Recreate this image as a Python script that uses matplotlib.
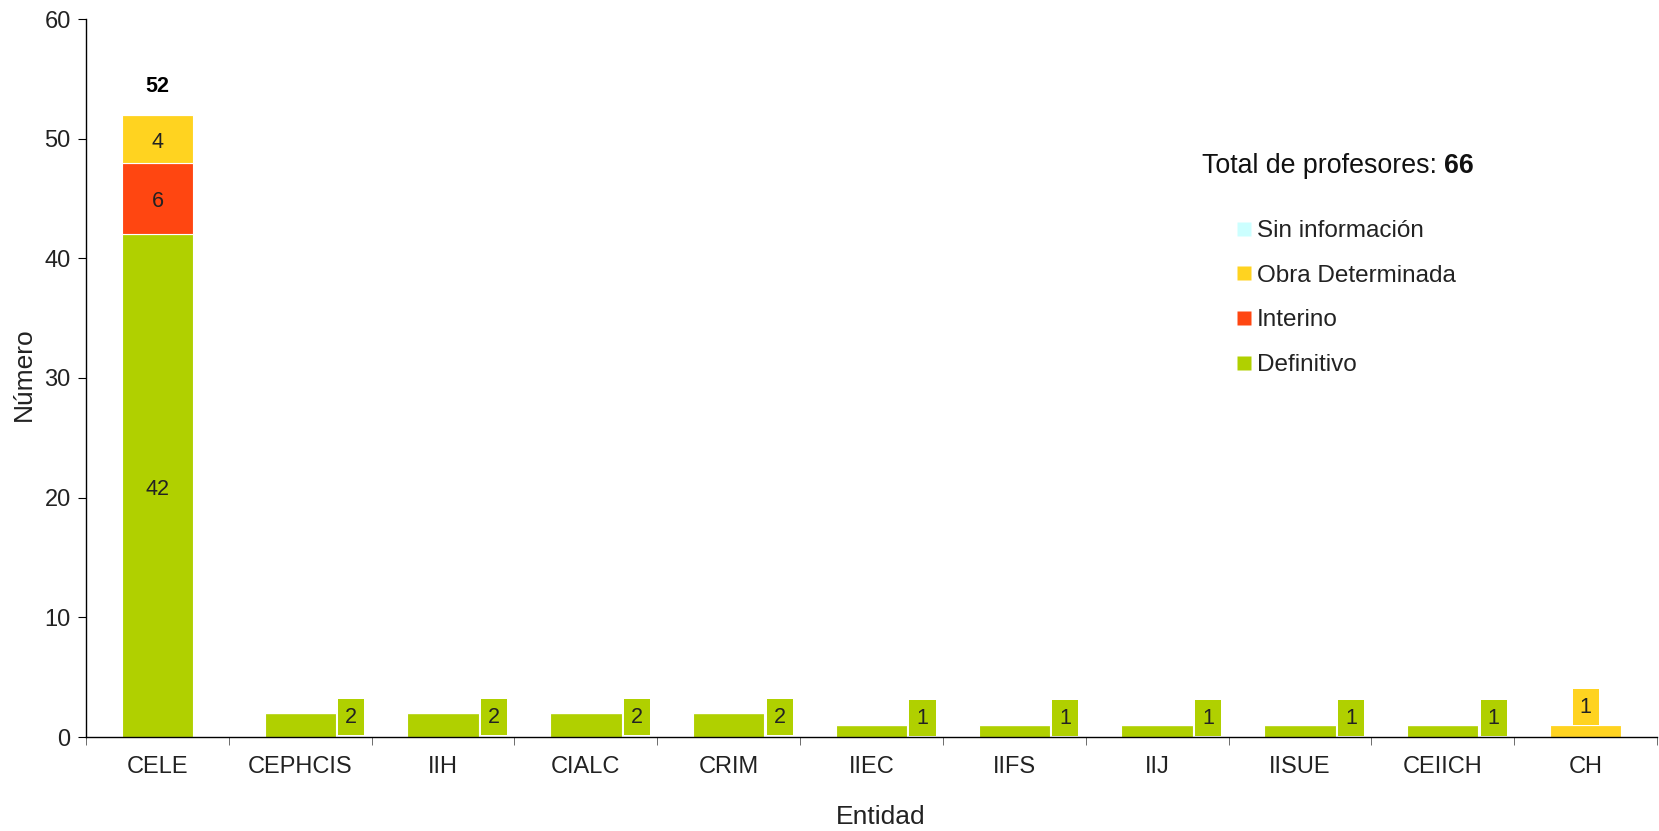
import matplotlib
matplotlib.use("Agg")
import matplotlib.pyplot as plt
from matplotlib.lines import Line2D
import numpy as np

plt.rcParams['font.family'] = ['Liberation Sans', 'DejaVu Sans']

categories = ["CELE", "CEPHCIS", "IIH", "CIALC", "CRIM", "IIEC", "IIFS", "IIJ", "IISUE", "CEIICH", "CH"]
definitivo = [42, 2, 2, 2, 2, 1, 1, 1, 1, 1, 0]
interino = [6, 0, 0, 0, 0, 0, 0, 0, 0, 0, 0]
obra_determinada = [4, 0, 0, 0, 0, 0, 0, 0, 0, 0, 1]
sin_informacion = [0, 0, 0, 0, 0, 0, 0, 0, 0, 0, 0]
series_names = ["Definitivo", "Interino", "Obra Determinada", "Sin información"]
total_profesores = 66

colors = {"Definitivo": "#B0D000", "Interino": "#FF4611",
          "Obra Determinada": "#FFD320", "Sin información": "#CCFFFF"}

W, H = 1659, 831
fig = plt.figure(figsize=(W / 100, H / 100), dpi=100)
ax = fig.add_axes([86 / W, 1 - 737 / H, (1657 - 86) / W, (737 - 19) / H])

x = np.arange(len(categories))
series = [definitivo, interino, obra_determinada, sin_informacion]
bottom = np.zeros(len(categories))
for name, vals in zip(series_names, series):
    vals = np.array(vals, dtype=float)
    ax.bar(x, vals, width=0.5, bottom=bottom, color=colors[name],
           edgecolor="white", linewidth=0.8, label=name)
    bottom += vals

tot = bottom
# Segment labels for the big bar
for i in range(len(categories)):
    b = 0
    big = tot[i] > 10
    for name, vals in zip(series_names, series):
        v = vals[i]
        if v > 0 and big:
            ax.annotate(str(v), xy=(x[i], b + v / 2), xytext=(0, -2.5), textcoords="offset points",
                        ha="center", va="center", fontsize=15.5, color="#222222")
        b += v
    if big:
        ax.text(x[i], tot[i] + 2.4, str(int(tot[i])), ha="center", va="center",
                fontsize=15.5, fontweight="bold", color="black")

# Small bar labels (boxes offset to the right / above)
for i in range(len(categories)):
    if tot[i] > 10:
        continue
    nonzero = [(n, s[i]) for n, s in zip(series_names, series) if s[i] > 0]
    name, v = nonzero[0]
    if name == "Definitivo":
        dx, dy = 51, (-4 if v >= 2 else 7)
    else:
        dx, dy = 0, 18
    ax.annotate(str(v), xy=(x[i], tot[i]), xytext=(dx * 0.72, dy * 0.72),
                textcoords="offset points", ha="center", va="center",
                fontsize=15.5, color="#222222",
                bbox=dict(boxstyle="square,pad=0.33", fc=colors[name], ec="none"))

ax.set_xlim(-0.5, len(categories) - 0.5)
ax.set_ylim(0, 60)
ax.set_yticks(range(0, 61, 10))
ax.set_xticks(x)
ax.set_xticklabels(categories)
ax.set_xticks(np.arange(-0.5, len(categories), 1), minor=True)
ax.tick_params(axis="x", which="major", length=0, pad=14, labelsize=17, labelcolor="#222222")
ax.tick_params(axis="x", which="minor", length=6, color="#555555")
ax.tick_params(axis="y", length=6, labelsize=17, labelcolor="#222222", pad=5)
for s in ["top", "right"]:
    ax.spines[s].set_visible(False)
ax.spines["left"].set_linewidth(1)
ax.spines["bottom"].set_linewidth(1)

fig.text(881 / W, 1 - 817 / H, "Entidad", fontsize=19, color="#222222", ha="center", va="center")
fig.text(24 / W, 1 - 374 / H, "Número", fontsize=19, color="#222222", ha="center", va="center",
         rotation=90)

t1 = fig.text(1202 / W, 1 - 166 / H, "Total de profesores: ", fontsize=19.3, va="center", ha="left", color="#111111")
ax.annotate(str(total_profesores), xy=(1, 0.5), xycoords=t1, ha="left", va="center",
            fontsize=19.3, fontweight="bold", color="#111111")

handles = [Line2D([], [], marker="s", linestyle="none", markersize=10,
                  markerfacecolor=colors[n], markeredgecolor="none") for n in series_names[::-1]]
fig.legend(handles, series_names[::-1], loc="upper left",
           bbox_to_anchor=(1223 / W, 1 - 208 / H), frameon=False, fontsize=17.5,
           handlelength=0.7, handletextpad=0.2, labelspacing=0.93, borderpad=0,
           labelcolor="#222222")

fig.savefig("out.png", dpi=100)
